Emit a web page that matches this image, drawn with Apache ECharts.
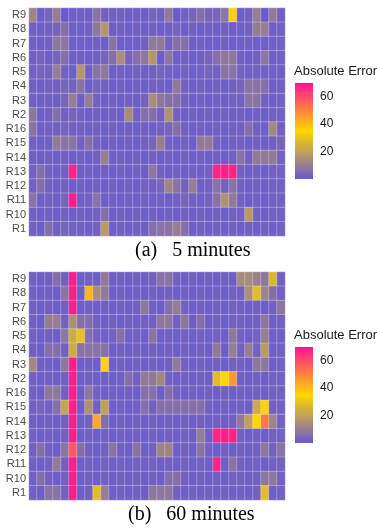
<!DOCTYPE html>
<html>
<head>
<meta charset="utf-8">
<title>Absolute Error heatmaps</title>
<script src="https://cdn.jsdelivr.net/npm/echarts@6/dist/echarts.min.js"></script>
<style>
  html, body { margin: 0; padding: 0; background: #fff; }
  #myChart { width: 377px; height: 529px; }
</style>
</head>
<body>
<div id="myChart"></div>
<script>
// row labels, top to bottom
const rows = ['R9','R8','R7','R6','R5','R4','R3','R2','R16','R15','R14','R13','R12','R11','R10','R1'];
const legendTicks = [20, 40, 60];
const errMax = 70;
const captions = ['(a)   5 minutes', '(b)   60 minutes'];

// (a) 5 minutes, one row per label, 32 columns
const err5 = [
  [12,1,3,10,0,1,2,1,7,2,2,2,1,2,1,3,2,9,0,2,3,6,3,3,8,36,1,2,10,0,9,2],
  [2,1,2,3,6,1,1,2,8,17,1,2,1,2,1,2,1,2,3,1,2,1,2,1,2,1,1,2,10,10,1,2],
  [2,1,2,8,8,1,1,1,2,1,7,1,1,1,2,9,9,2,6,6,1,2,1,1,2,1,1,2,1,1,1,2],
  [2,3,1,3,6,1,2,1,2,3,6,15,3,6,8,17,1,8,1,2,1,2,3,6,8,8,2,1,2,8,1,2],
  [2,3,2,10,2,1,17,2,7,8,1,2,1,2,1,2,3,2,1,2,1,2,3,2,7,7,2,1,2,2,1,2],
  [2,1,2,2,3,2,7,1,3,2,1,2,1,2,1,2,2,1,9,2,1,2,1,2,1,2,3,7,7,6,1,2],
  [2,1,2,1,3,10,1,10,2,1,2,1,2,1,2,14,8,6,6,2,1,2,1,2,1,2,2,7,7,2,1,2],
  [8,1,2,6,2,3,2,1,2,1,2,1,14,2,6,6,2,16,2,1,2,1,2,1,2,1,2,1,2,1,2,2],
  [7,1,2,2,3,2,2,1,2,1,2,1,2,1,2,1,2,3,6,2,1,2,1,2,1,2,2,6,2,1,13,2],
  [2,1,2,9,7,7,2,6,2,1,2,1,2,1,2,3,10,2,1,2,1,9,9,2,1,2,2,1,2,1,2,3],
  [2,1,2,1,2,1,2,1,2,10,1,2,1,2,1,2,1,2,1,2,1,2,1,2,1,2,7,2,9,9,9,2],
  [2,6,2,1,2,67,1,2,1,2,1,2,1,2,1,8,2,1,2,1,2,1,2,67,68,67,2,1,2,1,2,2],
  [2,6,2,1,2,1,2,1,2,1,2,1,2,1,2,2,3,12,7,2,10,1,2,7,2,7,2,1,2,1,2,2],
  [7,1,2,1,3,68,1,2,7,1,2,1,2,1,2,1,2,1,2,3,2,1,2,7,16,9,2,1,2,1,2,2],
  [2,1,2,1,2,1,2,1,2,6,1,2,1,2,1,2,1,2,1,2,1,2,1,2,1,2,2,18,2,1,2,2],
  [2,1,6,2,3,2,2,1,2,18,1,2,1,2,1,6,7,7,10,6,1,2,1,2,1,2,1,2,1,2,1,2]
];

// (b) 60 minutes
const err60 = [
  [2,1,2,6,2,68,1,2,1,9,1,2,1,2,1,2,7,7,2,1,2,1,2,1,2,1,14,14,11,8,26,2],
  [2,1,2,1,7,68,1,41,14,9,1,2,1,2,1,2,1,2,1,2,1,2,1,2,1,2,2,15,28,12,6,2],
  [2,1,2,1,2,68,1,2,1,2,1,2,1,2,8,2,1,6,10,2,1,2,1,2,1,2,2,1,2,1,2,8],
  [2,1,10,10,2,15,6,6,2,1,2,1,2,1,2,2,8,8,2,8,1,6,1,2,1,2,2,1,2,8,1,2],
  [2,1,2,1,8,23,29,6,2,1,2,6,1,2,1,7,1,2,1,2,1,2,1,2,1,8,2,1,2,10,1,2],
  [2,1,6,6,2,23,7,7,7,7,1,2,1,2,1,2,1,2,1,2,1,2,1,9,1,10,2,10,2,18,1,2],
  [13,1,2,1,8,68,1,2,1,34,1,2,1,2,1,2,1,2,9,2,1,2,1,2,1,2,2,1,8,8,1,2],
  [2,1,2,1,2,68,1,2,1,2,1,2,6,2,9,9,13,2,1,2,1,2,1,28,35,46,2,1,2,1,2,2],
  [2,1,8,8,2,68,1,8,2,1,2,1,2,1,6,6,1,6,2,1,2,1,2,1,2,1,2,1,2,1,2,2],
  [2,3,2,6,21,68,1,16,2,20,1,2,1,2,6,2,6,6,6,6,6,6,2,1,2,1,2,1,23,34,2,2],
  [2,1,2,1,2,68,1,2,43,6,1,2,1,2,1,2,1,2,1,2,1,2,1,2,1,2,9,20,35,52,12,2],
  [2,1,2,1,2,68,1,2,1,2,1,2,1,2,1,2,1,2,1,2,1,10,1,67,68,67,2,1,2,1,2,2],
  [2,6,2,1,7,58,6,2,1,2,7,2,1,7,1,2,12,12,1,2,1,7,2,1,2,1,2,1,2,8,2,7],
  [2,1,2,9,2,68,1,2,1,2,1,2,1,2,1,2,1,2,1,2,1,2,1,67,1,7,2,1,2,1,2,2],
  [2,6,2,1,2,68,1,2,1,2,1,2,1,2,1,2,1,6,6,2,1,2,1,2,1,2,2,1,2,8,8,2],
  [2,1,7,7,2,68,1,2,28,10,1,2,1,2,1,8,8,8,2,1,2,1,2,1,2,1,2,1,2,28,1,2]
];

const palette = ['#6A5ACD', '#FFD700', '#FF1493'];
const cols = err5[0].map((_, i) => String(i + 1));

function toCells(mat) {
  const out = [];
  mat.forEach((row, r) => row.forEach((v, c) => out.push([c, r, v])));
  return out;
}

const sans = 'Liberation Sans';
const panelTop = [8, 272];

let myChart = echarts.init(document.getElementById('myChart'));

const grids = [], xAxes = [], yAxes = [], series = [], titles = [];

panelTop.forEach((top, p) => {
  grids.push({ left: 29, top: top, width: 256, height: 228 });
  xAxes.push({ type: 'category', gridIndex: p, data: cols, show: false });
  yAxes.push({
    type: 'category', gridIndex: p, data: rows, inverse: true,
    axisLine: { show: false }, axisTick: { show: false }, splitLine: { show: false },
    axisLabel: { interval: 0, color: '#4d4d4d', fontSize: 11, margin: 3, fontFamily: sans }
  });
  series.push({
    type: 'heatmap', xAxisIndex: p, yAxisIndex: p,
    data: toCells(p === 0 ? err5 : err60),
    itemStyle: { borderColor: 'rgba(255,255,255,0.28)', borderWidth: 1 },
    emphasis: { disabled: true }
  });
});

// colour bars
panelTop.forEach((top, p) => {
  const g = 2 + p;
  grids.push({ left: 295, top: top + 75, width: 18, height: 96 });
  xAxes.push({ type: 'category', gridIndex: g, data: [''], show: false });
  const tick = { show: true, inside: true, length: 4, customValues: legendTicks, lineStyle: { color: '#fff', width: 1 } };
  yAxes.push({
    type: 'value', gridIndex: g, min: 0, max: errMax, position: 'right',
    axisLine: { show: false }, axisTick: tick, splitLine: { show: false },
    axisLabel: { customValues: legendTicks, color: '#1a1a1a', fontSize: 12, margin: 7, fontFamily: sans }
  });
  yAxes.push({
    type: 'value', gridIndex: g, min: 0, max: errMax, position: 'left',
    axisLine: { show: false }, axisTick: tick, splitLine: { show: false },
    axisLabel: { show: false }
  });
  series.push({
    type: 'bar', xAxisIndex: g, yAxisIndex: 2 + p * 2, data: [errMax],
    barWidth: '100%', silent: true, z: 1,
    itemStyle: {
      color: new echarts.graphic.LinearGradient(0, 0, 0, 1, [
        { offset: 0, color: palette[2] },
        { offset: 0.5, color: palette[1] },
        { offset: 1, color: palette[0] }
      ])
    }
  });
  titles.push({
    text: 'Absolute Error', left: 294, top: top + 57, padding: 0,
    textStyle: { fontSize: 13, fontWeight: 'normal', color: '#1a1a1a', fontFamily: sans }
  });
  titles.push({
    text: captions[p], left: p === 0 ? 135 : 128, top: top + 233, padding: 0,
    textStyle: { fontSize: 20, fontWeight: 'normal', color: '#000', fontFamily: 'Liberation Serif' }
  });
});

myChart.setOption({
  animation: false,
  title: titles,
  grid: grids,
  xAxis: xAxes,
  yAxis: yAxes,
  visualMap: {
    type: 'continuous', show: false, min: 0, max: errMax, seriesIndex: [0, 1],
    inRange: { color: palette }
  },
  series: series
});
</script>
</body>
</html>
